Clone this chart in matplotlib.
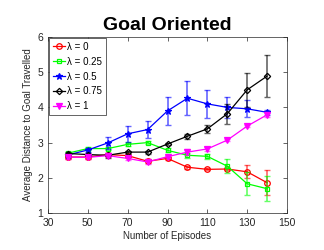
import matplotlib
matplotlib.use("Agg")
import matplotlib.pyplot as plt

plt.rcParams["font.family"] = ["Liberation Sans", "DejaVu Sans"]

episodes = [40, 50, 60, 70, 80, 90, 100, 110, 120, 130, 140]
labels = ["λ = 0", "λ = 0.25", "λ = 0.5", "λ = 0.75", "λ = 1"]
lam0 = [2.59, 2.59, 2.66, 2.63, 2.47, 2.55, 2.30, 2.24, 2.25, 2.17, 1.86]
lam0_err = [0.05, 0.05, 0.05, 0.05, 0.06, 0.05, 0.04, 0.03, 0.04, 0.18, 0.35]
lam025 = [2.70, 2.83, 2.83, 2.95, 3.00, 2.78, 2.64, 2.61, 2.33, 1.83, 1.69]
lam025_err = [0.04, 0.04, 0.05, 0.05, 0.05, 0.06, 0.07, 0.07, 0.2, 0.33, 0.36]
lam05 = [2.65, 2.79, 2.99, 3.25, 3.37, 3.90, 4.26, 4.10, 4.00, 3.96, 3.86]
lam05_err = [0.04, 0.07, 0.17, 0.22, 0.25, 0.40, 0.48, 0.40, 0.30, 0.24, 0.07]
lam075 = [2.69, 2.66, 2.64, 2.73, 2.73, 2.96, 3.18, 3.39, 3.82, 4.50, 4.89]
lam075_err = [0.04, 0.04, 0.07, 0.04, 0.04, 0.04, 0.07, 0.12, 0.28, 0.48, 0.60]
lam1 = [2.59, 2.58, 2.63, 2.55, 2.45, 2.60, 2.73, 2.82, 3.07, 3.47, 3.79]
lam1_err = [0.05, 0.05, 0.05, 0.05, 0.06, 0.05, 0.08, 0.05, 0.03, 0.04, 0.07]

series = [lam0, lam025, lam05, lam075, lam1]
errs = [lam0_err, lam025_err, lam05_err, lam075_err, lam1_err]
colors = ["#ff0000", "#00ff00", "#0000ff", "#000000", "#ff00ff"]
markers = ["o", "s", "*", "D", "v"]
mfc = ["none", "none", "#0000ff", "none", "#ff00ff"]
msizes = [4, 3.5, 5, 3.2, 4]

fig = plt.figure(figsize=(3.24, 2.5), dpi=100)
ax = fig.add_axes([0.148, 0.148, 0.738, 0.704])

for y, e, c, m, f, ms, lab in zip(series, errs, colors, markers, mfc, msizes, labels):
    ax.errorbar(episodes, y, yerr=e, fmt="none", ecolor=c, alpha=0.6,
                elinewidth=1.2, capsize=2.5, capthick=1.0)
    ax.plot(episodes, y, color=c, marker=m, mfc=f, mec=c, ms=ms, lw=0.9,
            mew=0.9, label=lab)

ax.set_xlim(30, 150)
ax.set_ylim(1, 6)
ax.set_xticks([30, 50, 70, 90, 110, 130, 150])
ax.set_yticks([1, 2, 3, 4, 5, 6])
ax.tick_params(direction="in", top=True, right=True, labelsize=7.5,
               colors="#262626", length=3, width=0.5)
for s in ax.spines.values():
    s.set_linewidth(0.5)
    s.set_color("#262626")
ax.set_xlabel("Number of Episodes", fontsize=7, color="#262626", labelpad=2)
ax.set_ylabel("Average Distance to Goal Travelled", fontsize=7,
              color="#262626", labelpad=3)
ax.set_title("Goal Oriented", fontsize=14, fontweight="bold", pad=5)
leg = ax.legend(loc="upper left", fontsize=7, handlelength=1.3,
                handletextpad=0.2, labelspacing=0.5, borderpad=0.35,
                fancybox=False, framealpha=1, borderaxespad=0.15)
leg.get_frame().set_edgecolor("#262626")
leg.get_frame().set_linewidth(0.5)

fig.savefig("out.png", dpi=100)
